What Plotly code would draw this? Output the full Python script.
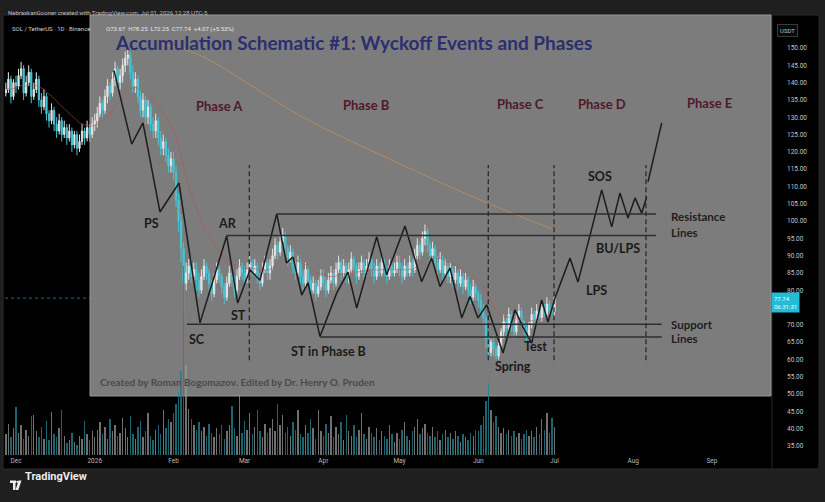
import plotly.graph_objects as go
import pandas as pd

# ---------------- SOL/USDT daily data ----------------
start_date = "2025-11-27"
first_open = 137
closes = [
    138, 141, 136, 140,
    139, 142, 144, 137, 140, 143, 136, 138, 141, 135,
    133, 136, 131, 129, 132, 128, 126, 129, 125, 127,
    124, 126, 122, 125, 121, 123, 126, 124, 127, 125, 128,
    129, 131, 134, 132, 136, 139, 137, 141, 144, 140,
    142, 145, 147, 148, 143, 139, 141, 136, 132, 135,
    130, 133, 128, 126, 129, 124, 121, 123, 119, 116, 118,
    114, 106, 100, 92, 82, 85, 87, 84, 86, 83,
    80, 84, 87, 85, 82, 79, 83, 86, 84, 81,
    78, 82, 85, 83, 80, 84, 87, 85,
    83, 86, 88, 85, 87, 84, 82, 86, 88, 85,
    87, 90, 93, 91, 94, 96, 92, 89, 91, 87,
    85, 88, 84, 82, 86, 83, 80, 82, 79, 81, 84,
    82, 80, 83, 85, 82, 86, 88, 85, 87, 84,
    86, 89, 87, 84, 86, 88, 85, 87, 89, 86,
    84, 87, 85, 88, 86, 84, 87, 85, 86, 88,
    86, 84, 87, 85, 88, 86, 90, 93, 91, 95,
    97, 93, 90, 92, 88, 86, 89, 85, 87, 84,
    86, 83, 85, 82, 84, 81, 83, 80, 78, 81, 79,
    77, 75, 72, 66, 62, 65, 63, 61, 64, 68,
    71, 69, 73, 70, 68, 72, 74, 71, 69, 67,
    70, 73, 71, 74, 72, 75, 73, 76, 74, 73.67,
    77.74,
]
highs = [
    140, 143, 142, 141,
    142, 144, 146, 145, 142, 145, 144, 140, 143, 142,
    137, 138, 137, 132, 134, 133, 130, 131, 130, 129,
    128, 128, 127, 126, 126, 125, 128, 127, 129, 128, 130,
    131, 133, 136, 135, 138, 141, 140, 143, 146, 145,
    144, 147, 149, 150, 149, 145, 143, 142, 138, 137,
    136, 135, 134, 130, 131, 130, 126, 125, 124, 121, 120,
    120, 116, 108, 102, 94, 88, 89, 89, 88, 88,
    85, 86, 89, 88, 86, 83, 85, 88, 87, 85,
    82, 84, 87, 86, 84, 86, 89, 88,
    87, 88, 90, 89, 89, 88, 85, 88, 90, 89,
    89, 92, 95, 94, 96, 98, 97, 93, 93, 92,
    89, 90, 89, 86, 88, 87, 84, 84, 83, 83, 86,
    86, 84, 85, 87, 86, 88, 90, 89, 89, 88,
    88, 91, 90, 88, 88, 90, 89, 89, 91, 90,
    88, 89, 88, 90, 89, 87, 89, 88, 88, 90,
    90, 88, 89, 88, 90, 89, 92, 95, 94, 97,
    99, 98, 94, 94, 93, 90, 91, 90, 89, 88,
    88, 87, 87, 86, 86, 85, 85, 84, 82, 83, 82,
    80, 79, 76, 73, 67, 66, 67, 64, 65, 69,
    73, 72, 75, 74, 71, 74, 76, 75, 72, 70,
    71, 75, 74, 76, 75, 77, 76, 78, 77, 75,
    78.25,
]
lows = [
    136, 137, 134, 135,
    137, 138, 141, 135, 136, 139, 134, 135, 137, 133,
    131, 132, 129, 127, 128, 126, 124, 125, 123, 124,
    122, 123, 120, 121, 119, 120, 122, 122, 123, 123, 124,
    126, 127, 130, 130, 131, 134, 135, 136, 139, 138,
    138, 140, 143, 145, 141, 137, 137, 134, 130, 130,
    128, 128, 126, 124, 124, 122, 119, 119, 117, 114, 114,
    112, 104, 97, 88, 72, 80, 83, 82, 82, 80,
    78, 79, 83, 83, 80, 77, 78, 82, 82, 79,
    76, 77, 81, 81, 78, 79, 83, 83,
    81, 82, 85, 84, 84, 82, 80, 81, 85, 83,
    83, 86, 89, 89, 90, 93, 90, 87, 88, 85,
    83, 84, 82, 80, 81, 81, 78, 79, 77, 78, 80,
    80, 78, 79, 82, 80, 81, 85, 83, 84, 82,
    82, 85, 85, 82, 83, 85, 83, 84, 86, 84,
    82, 83, 84, 84, 84, 82, 83, 84, 84, 85,
    84, 82, 83, 84, 84, 84, 85, 89, 89, 90,
    93, 91, 88, 88, 86, 84, 85, 83, 84, 82,
    82, 81, 82, 80, 81, 79, 80, 78, 76, 77, 77,
    75, 73, 70, 63, 60, 61, 61, 60, 60, 63,
    66, 67, 68, 68, 66, 67, 71, 70, 67, 65,
    66, 69, 70, 70, 71, 71, 72, 72, 73, 72,
    72.25,
]
volumes_m = [
    1.4, 2.1, 1.2, 1.8,
    3.2, 1.5, 2.0, 1.1, 1.7, 1.3, 2.6, 2.7, 1.6, 1.2,
    1.9, 1.1, 2.3, 1.0, 2.9, 1.4, 1.2, 1.8, 3.0, 1.3,
    0.8, 1.0, 1.5, 0.9, 0.7, 1.3, 1.1, 2.3, 1.4, 1.0, 1.6,
    1.2, 1.7, 2.2, 1.4, 1.9, 1.1, 2.4, 1.6, 2.0, 1.3,
    1.5, 2.5, 1.8, 1.2, 2.6, 1.4, 1.1, 1.9, 2.3, 1.2,
    1.6, 2.8, 1.3, 1.0, 1.7, 2.0, 1.4, 3.0, 1.8, 2.4, 2.2,
    2.8, 3.4, 4.2, 5.6, 12.6, 6.0, 3.1, 2.4, 2.0, 1.7,
    2.2, 1.6, 1.9, 1.3, 2.1, 1.5, 1.2, 1.8, 1.4, 2.0,
    1.1, 1.6, 2.0, 3.3, 1.8, 1.3, 4.0, 1.5,
    2.3, 1.7, 2.8, 1.4, 1.9, 3.0, 1.6, 1.2, 2.1, 1.5,
    1.8, 2.4, 1.6, 3.4, 2.0, 2.7, 1.5, 1.9, 1.3, 2.2,
    1.7, 3.0, 1.4, 1.2, 2.0, 1.5, 2.4, 1.8, 1.1, 3.0, 1.6,
    1.3, 2.1, 1.5, 2.6, 1.2, 1.9, 1.4, 2.2, 1.0, 2.7,
    1.6, 1.3, 2.0, 1.2, 1.7, 2.8, 1.4, 1.1, 1.9, 1.5,
    1.2, 1.8, 1.0, 1.6, 1.3, 1.1, 2.0, 1.4, 0.9, 1.5,
    1.1, 1.7, 2.2, 1.3, 1.0, 1.6, 1.9, 2.4, 1.4, 1.8,
    2.1, 1.5, 1.3, 1.9, 1.2, 1.6, 1.0, 1.4, 1.7, 1.2,
    1.5, 1.1, 1.6, 1.3, 0.9, 1.4, 1.2, 1.0, 1.5, 1.3, 1.7,
    1.6, 2.0, 2.6, 3.6, 4.8, 3.0, 2.2, 2.6, 1.9, 1.5,
    1.8, 1.4, 1.7, 1.3, 1.6, 1.2, 1.5, 1.1, 1.4, 1.7,
    1.3, 1.6, 1.2, 1.9, 1.4, 2.4, 1.7, 2.8, 1.5, 2.5,
    1.9,
]
assert len(closes) == len(highs) == len(lows) == len(volumes_m), (len(closes), len(highs), len(lows), len(volumes_m))

# long moving average (orange), read at a few dates
long_ma_dates = ["2026-01-28", "2026-02-11", "2026-03-24", "2026-04-28", "2026-06-02", "2026-07-01"]
long_ma_values = [151, 148, 130, 117.6, 106, 97.4]

month_ticks = ["2025-12-01", "2026-01-01", "2026-02-01", "2026-03-01", "2026-04-01",
               "2026-05-01", "2026-06-01", "2026-07-01", "2026-08-01", "2026-09-01"]
month_labels = ["Dec", "2026", "Feb", "Mar", "Apr", "May", "Jun", "Jul", "Aug", "Sep"]
price_ticks = list(range(35, 151, 5))
hidden_price_ticks = [75]  # covered by the last-price label in the reference

# ---------------- Wyckoff schematic (panel units 0-100) ----------------
path_u = [3.53, 6.13, 7.79, 10.29, 13.09, 16.18, 20.1, 21.72, 23.53, 25.0, 27.46, 28.9, 29.85,
          31.13, 32.06, 33.82, 36.28, 37.94, 39.22, 42.16, 43.63, 46.32, 48.78, 50.25, 51.47,
          52.94, 54.66, 55.88, 57.06, 58.34, 60.74, 62.5, 63.68, 64.96, 66.43, 67.35, 68.38,
          70.59, 71.76, 75.25, 76.72, 77.94, 79.12, 80.15, 81.13, 81.87]
path_v = [85.4, 66.1, 71.7, 48.3, 55.9, 19.2, 42.0, 24.4, 33.1, 30.4, 47.8, 34.9, 36.5,
          26.5, 29.7, 15.6, 27.0, 32.5, 23.1, 41.8, 31.8, 44.6, 30.0, 36.2, 28.7,
          33.6, 20.5, 26.1, 20.5, 23.9, 11.3, 22.6, 18.1, 13.9, 25.2, 19.4, 25.7,
          36.2, 29.9, 54.1, 44.4, 53.3, 46.7, 52.0, 48.0, 52.3]
arrow_u = [82.06, 84.07]
arrow_v = [56.2, 71.7]
level_v = [47.8, 42.1, 18.8, 15.5]
level_u0 = [27.46, 20.1, 14.26, 33.82]
level_u1 = [83.24, 83.24, 84.07, 84.07]
phase_div_u = [23.43, 58.57, 68.24, 81.76]
phase_div_v = [9.4, 60.6]

phase_names = ["Phase A", "Phase B", "Phase C", "Phase D", "Phase E"]
phase_u = [18.97, 40.59, 63.38, 75.29, 91.03]
phase_v = [76.1, 76.4, 76.6, 76.6, 76.9]
event_names = ["PS", "AR", "SC", "ST", "ST in Phase B", "Spring", "Test", "LPS", "BU/LPS", "SOS"]
event_u = [9.07, 20.25, 15.78, 21.81, 35.0, 62.25, 65.54, 74.51, 77.69, 75.0]
event_v = [45.3, 45.3, 14.7, 21.1, 11.6, 7.7, 13.1, 27.8, 38.8, 57.6]
side_names = ["Resistance", "Lines", "Support", "Lines"]
side_v = [47.2, 43.0, 18.8, 15.0]

# ---------------- build ----------------
dates = pd.date_range(start_date, periods=len(closes), freq="D")
opens = [first_open] + closes[:-1]
ema = pd.Series(closes).ewm(span=20, adjust=False).mean()
vol_colors = ["rgba(150,150,150,0.75)" if c >= o else "rgba(34,128,138,0.8)" for o, c in zip(opens, closes)]

W, H = 825, 502
ML, MR, MT, MB = 5, 55, 15, 47
PW, PH = W - ML - MR, H - MT - MB


def px_x(x):
    return (x - ML) / PW


def px_y(y):
    return (H - MB - y) / PH


fig = go.Figure()

fig.add_trace(go.Bar(x=dates, y=volumes_m, marker=dict(color=vol_colors, line=dict(width=0)),
                     yaxis="y2", xaxis="x", hoverinfo="skip", width=86400000 * 0.55))
fig.add_trace(go.Scatter(x=dates, y=ema, mode="lines", line=dict(color="rgba(190,80,70,0.55)", width=1),
                         hoverinfo="skip"))
fig.add_trace(go.Scatter(x=long_ma_dates, y=long_ma_values, mode="lines",
                         line=dict(color="rgba(215,145,80,0.6)", width=1, shape="spline"), hoverinfo="skip"))
fig.add_trace(go.Candlestick(x=dates, open=opens, high=highs, low=lows, close=closes,
                             increasing=dict(line=dict(color="#e4e4e4", width=1), fillcolor="#e4e4e4"),
                             decreasing=dict(line=dict(color="#45c6d6", width=1), fillcolor="#45c6d6"),
                             whiskerwidth=0, hoverinfo="skip"))

# schematic
fig.add_trace(go.Scatter(x=path_u, y=path_v, xaxis="x2", yaxis="y3", mode="lines",
                         line=dict(color="#1c1c1c", width=1.5), hoverinfo="skip"))
fig.add_trace(go.Scatter(x=arrow_u, y=arrow_v, xaxis="x2", yaxis="y3", mode="lines",
                         line=dict(color="#1c1c1c", width=1.5), hoverinfo="skip"))
lx, ly = [], []
for v, a, b in zip(level_v, level_u0, level_u1):
    lx += [a, b, None]
    ly += [v, v, None]
fig.add_trace(go.Scatter(x=lx, y=ly, xaxis="x2", yaxis="y3", mode="lines",
                         line=dict(color="#2e2e2e", width=1.5), hoverinfo="skip"))
dx, dy = [], []
for u in phase_div_u:
    dx += [u, u, None]
    dy += [phase_div_v[0], phase_div_v[1], None]
fig.add_trace(go.Scatter(x=dx, y=dy, xaxis="x2", yaxis="y3", mode="lines",
                         line=dict(color="#2a2a2a", width=1.3, dash="5px,3px"), hoverinfo="skip"))

ann = []
ann.append(dict(text="Accumulation Schematic #1: Wyckoff Events and Phases", x=38.68, y=92.9,
                xref="x2", yref="y3", showarrow=False,
                font=dict(family="Lato", size=19, color="#2b2e70", weight="bold")))
for t, u, v in zip(phase_names, phase_u, phase_v):
    ann.append(dict(text=t, x=u, y=v, xref="x2", yref="y3", showarrow=False,
                    font=dict(family="Lato", size=13, color="#4e1a2a", weight="bold")))
for t, u, v in zip(event_names, event_u, event_v):
    ann.append(dict(text=t, x=u, y=v, xref="x2", yref="y3", showarrow=False,
                    font=dict(family="Lato", size=12.5, color="#1a1a1a", weight="bold")))
for t, v in zip(side_names, side_v):
    ann.append(dict(text=t, x=85.15, y=v, xref="x2", yref="y3", showarrow=False, xanchor="left",
                    font=dict(family="Lato", size=11.5, color="#1e1e1e", weight="bold")))
ann.append(dict(text="Created by Roman Bogomazov. Edited by Dr. Henry O. Pruden", x=1.18, y=3.7,
                xref="x2", yref="y3", showarrow=False, xanchor="left",
                font=dict(family="Lato", size=10, color="#4a4a4a", weight="bold")))

# TradingView header / chrome
ann.append(dict(text="NebraskanGooner created with TradingView.com, Jul 01, 2026 12:28 UTC-5",
                x=px_x(6), y=px_y(7), xref="paper", yref="paper", xanchor="left", showarrow=False,
                font=dict(family="Roboto", size=6, color="#bdbdbd")))
ann.append(dict(text="SOL / TetherUS · 1D · Binance", x=px_x(10), y=px_y(23), xref="paper", yref="paper",
                xanchor="left", showarrow=False, font=dict(family="Roboto", size=6, color="#cfcfcf")))
ann.append(dict(text="O73.67  H78.25  L72.25  C77.74  +4.07 (+5.53%)", x=px_x(104), y=px_y(23),
                xref="paper", yref="paper", xanchor="left", showarrow=False,
                font=dict(family="Roboto", size=6, color="#e8e8e8")))
ann.append(dict(text="USDT", x=px_x(798), y=px_y(24), xref="paper", yref="paper", showarrow=False,
                font=dict(family="Roboto", size=6, color="#bdbdbd"), bordercolor="#3a3a3a",
                borderwidth=1, borderpad=2, bgcolor="#0a0a0a"))
ann.append(dict(text="77.74<br>06:31:31", x=px_x(800), y=closes[-1], xref="paper", yref="y",
                yshift=-4, showarrow=False, font=dict(family="Roboto", size=6, color="#eaffff"),
                bgcolor="#22bcd6", borderpad=2, align="left"))
ann.append(dict(text="<b>TradingView</b>", x=px_x(23), y=px_y(485), xref="paper", yref="paper",
                xanchor="left", showarrow=False, font=dict(family="Roboto", size=11, color="#ececec")))

shapes = []
# black chart canvas
shapes.append(dict(type="rect", xref="paper", yref="paper", x0=px_x(3), x1=px_x(819), y0=px_y(469), y1=px_y(15),
                   fillcolor="#000000", line=dict(color="#2b2b2b", width=1), layer="below"))
shapes.append(dict(type="line", xref="paper", yref="paper", x0=px_x(772), x1=px_x(772), y0=px_y(469), y1=px_y(15),
                   line=dict(color="#262626", width=1), layer="below"))
# last price line
shapes.append(dict(type="line", xref="paper", yref="y", x0=0, x1=1, y0=closes[-1], y1=closes[-1],
                   line=dict(color="rgba(34,188,214,0.6)", width=1, dash="dot"), layer="below"))
# schematic panel (gray image)
shapes.append(dict(type="rect", xref="paper", yref="paper", x0=px_x(90), x1=px_x(771), y0=px_y(396), y1=px_y(15),
                   fillcolor="#7c7c7c", line=dict(color="#969696", width=1), layer="below"))
# TradingView logo
shapes.append(dict(type="rect", xref="paper", yref="paper", x0=px_x(10), x1=px_x(16), y0=px_y(483), y1=px_y(480.5),
                   fillcolor="#ececec", line=dict(width=0)))
shapes.append(dict(type="rect", xref="paper", yref="paper", x0=px_x(13), x1=px_x(15.5), y0=px_y(490), y1=px_y(481),
                   fillcolor="#ececec", line=dict(width=0)))
shapes.append(dict(type="circle", xref="paper", yref="paper", x0=px_x(16.3), x1=px_x(18.6), y0=px_y(483), y1=px_y(480.7),
                   fillcolor="#ececec", line=dict(width=0)))
shapes.append(dict(type="path", xref="paper", yref="paper",
                   path=f"M {px_x(18.5)} {px_y(480.5)} L {px_x(21.5)} {px_y(480.5)} L {px_x(18.3)} {px_y(490)} L {px_x(15.6)} {px_y(490)} Z",
                   fillcolor="#ececec", line=dict(width=0)))

x_start = pd.Timestamp("2025-12-01") + pd.Timedelta(days=(ML - 16) / 2.54)
x_end = pd.Timestamp("2025-12-01") + pd.Timedelta(days=(W - MR - 16) / 2.54)
y_per_px = 115 / (446 - 48)
y_lo = 35 - (H - MB - 446) * y_per_px
y_hi = 150 + (48 - MT) * y_per_px

fig.update_layout(
    width=W, height=H, margin=dict(l=ML, r=MR, t=MT, b=MB),
    paper_bgcolor="#1f1f1f", plot_bgcolor="rgba(0,0,0,0)", showlegend=False,
    font=dict(family="Roboto", color="#bdbdbd"),
    xaxis=dict(type="date", range=[x_start, x_end], tickvals=month_ticks, ticktext=month_labels,
               showgrid=False, zeroline=False, showline=False, ticks="", rangeslider=dict(visible=False),
               tickfont=dict(size=6.5, color="#b8b8b8"), ticklabelstandoff=0, fixedrange=True),
    yaxis=dict(side="right", range=[y_lo, y_hi], tickvals=price_ticks,
               ticktext=["" if p in hidden_price_ticks else f"{p:.2f}" for p in price_ticks],
               showgrid=False, zeroline=False,
               tickfont=dict(size=6.5, color="#c4c4c4"), ticklabelstandoff=16, fixedrange=True),
    yaxis2=dict(overlaying="y", range=[0, PH / 15], visible=False, fixedrange=True),
    xaxis2=dict(domain=[px_x(90), px_x(770)], range=[0, 100], anchor="y3", visible=False, fixedrange=True),
    yaxis3=dict(domain=[px_y(396), 1.0], range=[0, 100], anchor="x2", visible=False, fixedrange=True),
    annotations=ann, shapes=shapes, bargap=0,
)

fig.write_html("out.html")
